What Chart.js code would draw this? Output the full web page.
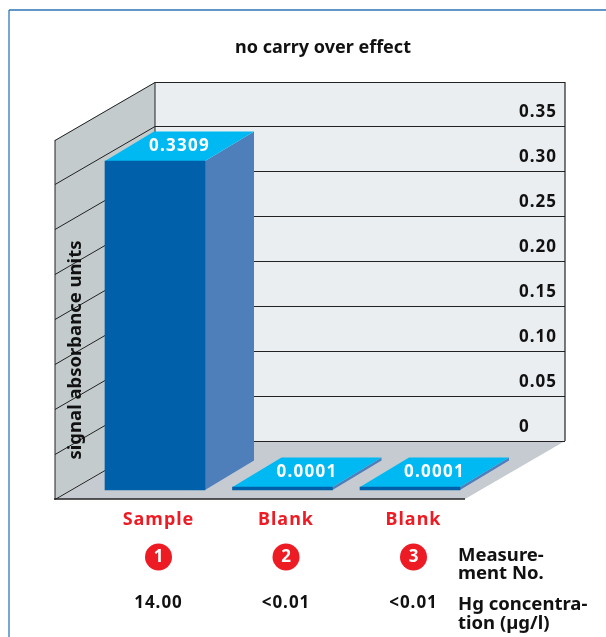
<!DOCTYPE html>
<html>
<head>
<meta charset="utf-8">
<style>
  html, body { margin: 0; padding: 0; background: #fff; }
  #wrap { position: relative; width: 606px; height: 637px; }
</style>
<script src="https://cdn.jsdelivr.net/npm/chart.js@4"></script>
</head>
<body>
<div id="wrap"><canvas id="myChart" width="606" height="637"></canvas></div>
<script>
const categories = ['Sample', 'Blank', 'Blank'];
const absorbance = [0.3309, 0.0001, 0.0001];
const absorbanceLabels = ['0.3309', '0.0001', '0.0001'];
const measurementNo = ['1', '2', '3'];
const concentration = ['14.00', '<0.01', '<0.01'];
const wallTicks = [0, 0.05, 0.10, 0.15, 0.20, 0.25, 0.30, 0.35];
const wallTickLabels = ['0', '0.05', '0.10', '0.15', '0.20', '0.25', '0.30', '0.35'];
const chartTitle = 'no carry over effect';
const yTitle = 'signal absorbance units';
const rowTitles = [['Measure-', 'ment No.'], ['Hg concentra-', 'tion (µg/l)']];

const FONT = '"Noto Sans", sans-serif';
const RED = '#ed1c24';
const LINE = '#222';

// depth of the room and of the bars, in pixels
const ROOM_DX = 100, ROOM_DY = 58;
const BAR_DX = 49, BAR_DY = 29.5;
const WALL_LEFT = 155, WALL_RIGHT = 565;

function poly(ctx, pts, fill) {
  ctx.beginPath();
  pts.forEach((p, i) => i ? ctx.lineTo(p[0], p[1]) : ctx.moveTo(p[0], p[1]));
  ctx.closePath();
  ctx.fillStyle = fill;
  ctx.fill();
}

function seg(ctx, x1, y1, x2, y2, width, color) {
  ctx.beginPath();
  ctx.moveTo(x1, y1);
  ctx.lineTo(x2, y2);
  ctx.lineWidth = width;
  ctx.strokeStyle = color || LINE;
  ctx.stroke();
}

const roomPlugin = {
  id: 'room',
  beforeDraw(chart) {
    const ctx = chart.ctx;
    const y = chart.scales.y;
    const top = y.getPixelForValue(y.max);
    const zero = y.getPixelForValue(0);
    const fl = WALL_LEFT - ROOM_DX;

    ctx.save();
    // page frame
    seg(ctx, 9, 637, 9, 10, 1.5, '#4a8bc4');
    seg(ctx, 9, 10, 606, 10, 1.5, '#2b75b5');

    poly(ctx, [[WALL_LEFT, top], [WALL_RIGHT, top], [WALL_RIGHT, zero], [WALL_LEFT, zero]], '#ebeef1');
    poly(ctx, [[WALL_LEFT, top], [WALL_LEFT, zero], [fl, zero + ROOM_DY], [fl, top + ROOM_DY]], '#c4cbcd');
    poly(ctx, [[WALL_LEFT, zero], [WALL_RIGHT, zero], [WALL_RIGHT - ROOM_DX, zero + ROOM_DY], [fl, zero + ROOM_DY]], '#c6cbd1');

    wallTicks.concat([y.max]).forEach(v => {
      const py = Math.round(y.getPixelForValue(v)) + 0.5;
      seg(ctx, WALL_LEFT, py, WALL_RIGHT, py, 1.2);
      seg(ctx, WALL_LEFT, py, fl, py + ROOM_DY, 1);
    });
    seg(ctx, WALL_LEFT, top, WALL_LEFT, zero, 1);
    seg(ctx, WALL_RIGHT, top, WALL_RIGHT, zero, 1.2);
    seg(ctx, fl, top + ROOM_DY, fl, zero + ROOM_DY, 1);
    seg(ctx, fl - 1, zero + ROOM_DY, WALL_RIGHT - ROOM_DX, zero + ROOM_DY, 1.6);

    // texts that are not axis ticks
    ctx.fillStyle = '#111';
    ctx.textBaseline = 'middle';
    ctx.textAlign = 'center';
    ctx.font = 'bold 18px ' + FONT;
    ctx.fillText(chartTitle, 323, 48);

    ctx.translate(76, 350);
    ctx.rotate(-Math.PI / 2);
    ctx.font = 'bold 18.5px ' + FONT;
    ctx.fillText(yTitle, 0, 0);
    ctx.restore();

    // the reference numerals run wide, the tick labels need this too
    ctx.letterSpacing = '1px';
  },
  beforeDatasetsDraw(chart) {
    const ctx = chart.ctx;
    ctx.letterSpacing = '0px';
    ctx.save();
    chart.getDatasetMeta(0).data.forEach(bar => {
      const l = bar.x - bar.width / 2, r = bar.x + bar.width / 2;
      poly(ctx, [[r, bar.y], [r + BAR_DX, bar.y - BAR_DY], [r + BAR_DX, bar.base - BAR_DY], [r, bar.base]], '#4f7fbb');
      poly(ctx, [[l, bar.y], [r, bar.y], [r + BAR_DX, bar.y - BAR_DY], [l + BAR_DX, bar.y - BAR_DY]], '#00b9f2');
    });
    ctx.restore();
  },
  afterDatasetsDraw(chart) {
    const ctx = chart.ctx;
    const x = chart.scales.x;
    ctx.save();
    ctx.textBaseline = 'middle';
    ctx.textAlign = 'center';

    chart.getDatasetMeta(0).data.forEach((bar, i) => {
      ctx.fillStyle = '#fff';
      ctx.font = 'bold 17px ' + FONT;
      ctx.letterSpacing = '1.3px';
      ctx.fillText(absorbanceLabels[i], bar.x + BAR_DX / 2, bar.y - BAR_DY / 2);
    });

    categories.forEach((c, i) => {
      const cx = x.getPixelForTick(i) + 3.5;
      ctx.beginPath();
      ctx.arc(cx, 557, 13.5, 0, Math.PI * 2);
      ctx.fillStyle = RED;
      ctx.fill();
      ctx.fillStyle = '#fff';
      ctx.letterSpacing = '0px';
      ctx.font = 'bold 17px ' + FONT;
      ctx.fillText(measurementNo[i], cx, 557);

      ctx.fillStyle = '#111';
      ctx.letterSpacing = '1px';
      ctx.font = 'bold 17px ' + FONT;
      ctx.fillText(concentration[i], cx, 603);
    });

    ctx.letterSpacing = '0px';
    ctx.textAlign = 'left';
    ctx.font = 'bold 18.5px ' + FONT;
    ctx.fillText(rowTitles[0][0], 458, 556);
    ctx.fillText(rowTitles[0][1], 458, 574);
    ctx.fillText(rowTitles[1][0], 458, 605);
    ctx.fillText(rowTitles[1][1], 458, 624);
    ctx.restore();
  }
};

new Chart(document.getElementById('myChart'), {
  type: 'bar',
  data: {
    labels: categories,
    datasets: [{
      data: absorbance,
      yAxisID: 'yBar',
      backgroundColor: '#0060a9',
      barThickness: 100,
      minBarLength: 3
    }]
  },
  options: {
    responsive: false,
    animation: false,
    layout: { padding: { left: 91.25, top: 82, right: 0, bottom: 0 } },
    plugins: { legend: { display: false }, tooltip: { enabled: false } },
    scales: {
      x: {
        grid: { display: false },
        border: { display: false },
        afterFit: s => { s.height = 138; },
        ticks: {
          color: RED,
          padding: 2,
          labelOffset: 3.5,
          maxRotation: 0,
          font: { family: FONT, size: 18, weight: 'bold' }
        }
      },
      y: {
        position: 'right',
        min: -0.0644,
        max: 0.3985,
        grid: { display: false },
        border: { display: false },
        afterBuildTicks: s => { s.ticks = wallTicks.map(v => ({ value: v })); },
        afterFit: s => { s.width = 132.25; },
        ticks: {
          autoSkip: false,
          color: '#111',
          padding: 37.25,
          labelOffset: -14,
          callback: (v, i) => wallTickLabels[i],
          font: { family: FONT, size: 17, weight: 'bold' }
        }
      },
      // bars stand nearer than the back wall, so they get their own scale
      yBar: {
        display: false,
        min: -0.00905,
        max: 0.4103
      }
    }
  },
  plugins: [roomPlugin]
});
</script>
</body>
</html>
